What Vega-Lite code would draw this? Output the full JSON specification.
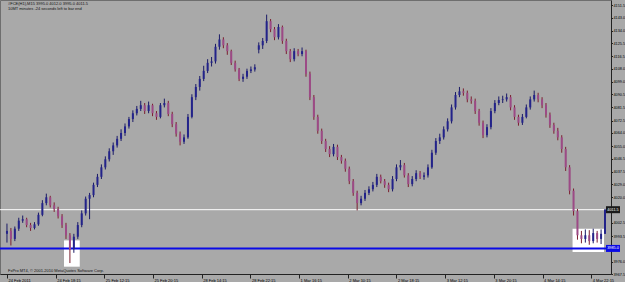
{
  "$schema": "https://vega.github.io/schema/vega-lite/v6.json",
  "width": 611,
  "height": 274,
  "autosize": {"type": "none"},
  "padding": {"left": 0, "top": 0, "right": 14, "bottom": 8},
  "background": "#a9a9a9",
  "config": {
    "view": {"fill": "#a9a9a9", "stroke": "#6e6e6e", "strokeWidth": 1},
    "font": "Liberation Sans",
    "axis": {"grid": false, "labelFont": "Liberation Sans", "labelFontSize": 4, "labelColor": "#000", "domainColor": "#222", "tickColor": "#222", "labelOverlap": false, "labelFlush": false, "labelBound": false, "title": null}
  },
  "datasets": {
    "bars": [
      {"i":0,"o":3995.0,"h":4002.0,"l":3989.0,"c":3997.0},
      {"i":1,"o":3997.0,"h":3999.0,"l":3987.0,"c":3991.5},
      {"i":2,"o":3991.5,"h":4000.0,"l":3990.0,"c":3998.5},
      {"i":3,"o":3998.5,"h":4006.0,"l":3997.0,"c":4004.0},
      {"i":4,"o":4004.0,"h":4007.5,"l":4002.5,"c":4005.0},
      {"i":5,"o":4005.0,"h":4006.0,"l":3999.5,"c":4001.0},
      {"i":6,"o":4001.0,"h":4002.5,"l":3997.0,"c":3999.0},
      {"i":7,"o":3999.0,"h":4003.0,"l":3998.0,"c":4001.5},
      {"i":8,"o":4001.5,"h":4009.5,"l":4000.5,"c":4008.0},
      {"i":9,"o":4008.0,"h":4018.0,"l":4007.0,"c":4016.0},
      {"i":10,"o":4016.0,"h":4022.5,"l":4014.5,"c":4020.0},
      {"i":11,"o":4020.0,"h":4021.0,"l":4013.0,"c":4014.5},
      {"i":12,"o":4014.5,"h":4016.5,"l":4010.0,"c":4012.0},
      {"i":13,"o":4012.0,"h":4013.5,"l":4005.5,"c":4007.0},
      {"i":14,"o":4007.0,"h":4008.5,"l":3999.0,"c":4001.0},
      {"i":15,"o":4001.0,"h":4002.5,"l":3991.5,"c":3994.0},
      {"i":16,"o":3994.0,"h":3995.5,"l":3975.0,"c":3984.5},
      {"i":17,"o":3984.5,"h":3995.0,"l":3982.0,"c":3993.0},
      {"i":18,"o":3993.0,"h":4003.0,"l":3991.5,"c":4001.0},
      {"i":19,"o":4001.0,"h":4011.0,"l":3999.5,"c":4009.0},
      {"i":20,"o":4009.0,"h":4020.5,"l":4007.5,"c":4019.0},
      {"i":21,"o":4019.0,"h":4023.0,"l":4005.0,"c":4021.5},
      {"i":22,"o":4021.5,"h":4030.0,"l":4020.0,"c":4028.5},
      {"i":23,"o":4028.5,"h":4036.0,"l":4027.0,"c":4034.0},
      {"i":24,"o":4034.0,"h":4042.5,"l":4032.5,"c":4040.5},
      {"i":25,"o":4040.5,"h":4048.0,"l":4039.0,"c":4046.0},
      {"i":26,"o":4046.0,"h":4053.5,"l":4044.5,"c":4051.5},
      {"i":27,"o":4051.5,"h":4057.5,"l":4049.0,"c":4055.5},
      {"i":28,"o":4055.5,"h":4062.0,"l":4054.0,"c":4060.0},
      {"i":29,"o":4060.0,"h":4066.5,"l":4058.5,"c":4064.0},
      {"i":30,"o":4064.0,"h":4070.5,"l":4062.0,"c":4068.5},
      {"i":31,"o":4068.5,"h":4075.0,"l":4067.0,"c":4073.5},
      {"i":32,"o":4073.5,"h":4079.5,"l":4071.5,"c":4077.5},
      {"i":33,"o":4077.5,"h":4082.5,"l":4076.0,"c":4080.5},
      {"i":34,"o":4080.5,"h":4086.0,"l":4079.0,"c":4083.0},
      {"i":35,"o":4083.0,"h":4084.5,"l":4077.0,"c":4079.0},
      {"i":36,"o":4079.0,"h":4085.5,"l":4077.5,"c":4083.0},
      {"i":37,"o":4083.0,"h":4084.0,"l":4075.5,"c":4077.5},
      {"i":38,"o":4077.5,"h":4079.0,"l":4073.0,"c":4075.0},
      {"i":39,"o":4075.0,"h":4084.5,"l":4074.0,"c":4083.0},
      {"i":40,"o":4083.0,"h":4087.5,"l":4081.5,"c":4084.5},
      {"i":41,"o":4084.5,"h":4086.0,"l":4075.5,"c":4077.0},
      {"i":42,"o":4077.0,"h":4078.5,"l":4068.0,"c":4070.0},
      {"i":43,"o":4070.0,"h":4071.5,"l":4061.5,"c":4063.5},
      {"i":44,"o":4063.5,"h":4065.0,"l":4055.5,"c":4058.0},
      {"i":45,"o":4058.0,"h":4063.0,"l":4056.5,"c":4061.0},
      {"i":46,"o":4061.0,"h":4077.0,"l":4060.0,"c":4075.0},
      {"i":47,"o":4075.0,"h":4090.5,"l":4074.0,"c":4088.5},
      {"i":48,"o":4088.5,"h":4097.5,"l":4086.5,"c":4095.5},
      {"i":49,"o":4095.5,"h":4103.0,"l":4093.0,"c":4101.0},
      {"i":50,"o":4101.0,"h":4110.0,"l":4099.5,"c":4106.5},
      {"i":51,"o":4106.5,"h":4114.5,"l":4105.0,"c":4112.0},
      {"i":52,"o":4112.0,"h":4116.0,"l":4109.5,"c":4113.0},
      {"i":53,"o":4113.0,"h":4125.0,"l":4111.5,"c":4123.0},
      {"i":54,"o":4123.0,"h":4131.5,"l":4121.0,"c":4128.0},
      {"i":55,"o":4128.0,"h":4129.5,"l":4122.0,"c":4124.0},
      {"i":56,"o":4124.0,"h":4125.5,"l":4117.5,"c":4120.0},
      {"i":57,"o":4120.0,"h":4121.0,"l":4110.5,"c":4112.0},
      {"i":58,"o":4112.0,"h":4113.5,"l":4106.0,"c":4107.5},
      {"i":59,"o":4107.5,"h":4108.5,"l":4099.5,"c":4101.0},
      {"i":60,"o":4101.0,"h":4104.5,"l":4099.0,"c":4102.5},
      {"i":61,"o":4102.5,"h":4108.0,"l":4101.0,"c":4106.5},
      {"i":62,"o":4106.5,"h":4109.5,"l":4105.0,"c":4107.5},
      {"i":63,"o":4107.5,"h":4111.0,"l":4106.0,"c":4109.0},
      {"i":64,"o":4121.0,"h":4126.0,"l":4118.5,"c":4124.0},
      {"i":65,"o":4124.0,"h":4129.0,"l":4121.5,"c":4127.0},
      {"i":66,"o":4127.0,"h":4145.0,"l":4125.5,"c":4140.5},
      {"i":67,"o":4140.5,"h":4142.0,"l":4133.0,"c":4135.0},
      {"i":68,"o":4135.0,"h":4136.5,"l":4127.5,"c":4129.5},
      {"i":69,"o":4129.5,"h":4138.5,"l":4128.0,"c":4136.5},
      {"i":70,"o":4136.5,"h":4137.5,"l":4125.0,"c":4127.0},
      {"i":71,"o":4127.0,"h":4128.5,"l":4118.0,"c":4120.0},
      {"i":72,"o":4120.0,"h":4121.5,"l":4112.5,"c":4114.5},
      {"i":73,"o":4114.5,"h":4122.0,"l":4113.0,"c":4120.0},
      {"i":74,"o":4120.0,"h":4121.5,"l":4116.5,"c":4118.0},
      {"i":75,"o":4118.0,"h":4122.5,"l":4116.5,"c":4120.0},
      {"i":76,"o":4120.0,"h":4121.0,"l":4102.5,"c":4104.5},
      {"i":77,"o":4104.5,"h":4106.0,"l":4086.5,"c":4088.5},
      {"i":78,"o":4088.5,"h":4090.0,"l":4073.0,"c":4075.0},
      {"i":79,"o":4075.0,"h":4076.5,"l":4063.5,"c":4065.5},
      {"i":80,"o":4065.5,"h":4067.0,"l":4056.5,"c":4058.5},
      {"i":81,"o":4058.5,"h":4060.0,"l":4051.0,"c":4053.0},
      {"i":82,"o":4053.0,"h":4055.0,"l":4047.5,"c":4049.5},
      {"i":83,"o":4049.5,"h":4056.5,"l":4048.0,"c":4054.5},
      {"i":84,"o":4054.5,"h":4056.0,"l":4045.5,"c":4047.5},
      {"i":85,"o":4047.5,"h":4049.0,"l":4043.0,"c":4045.0},
      {"i":86,"o":4045.0,"h":4046.5,"l":4037.5,"c":4039.5},
      {"i":87,"o":4039.5,"h":4041.0,"l":4029.0,"c":4031.0},
      {"i":88,"o":4031.0,"h":4032.5,"l":4021.0,"c":4023.0},
      {"i":89,"o":4023.0,"h":4024.5,"l":4011.0,"c":4016.0},
      {"i":90,"o":4016.0,"h":4021.0,"l":4014.5,"c":4019.0},
      {"i":91,"o":4019.0,"h":4025.0,"l":4017.5,"c":4023.0},
      {"i":92,"o":4023.0,"h":4027.5,"l":4021.5,"c":4025.5},
      {"i":93,"o":4025.5,"h":4030.5,"l":4024.0,"c":4028.5},
      {"i":94,"o":4028.5,"h":4036.0,"l":4027.0,"c":4034.0},
      {"i":95,"o":4034.0,"h":4035.5,"l":4029.5,"c":4031.0},
      {"i":96,"o":4031.0,"h":4032.5,"l":4026.5,"c":4028.5},
      {"i":97,"o":4028.5,"h":4030.0,"l":4023.5,"c":4025.5},
      {"i":98,"o":4025.5,"h":4034.5,"l":4024.0,"c":4032.5},
      {"i":99,"o":4032.5,"h":4042.5,"l":4031.0,"c":4040.5},
      {"i":100,"o":4040.5,"h":4045.5,"l":4038.5,"c":4042.0},
      {"i":101,"o":4042.0,"h":4043.5,"l":4033.5,"c":4035.0},
      {"i":102,"o":4035.0,"h":4036.5,"l":4027.0,"c":4029.0},
      {"i":103,"o":4029.0,"h":4034.5,"l":4027.5,"c":4032.5},
      {"i":104,"o":4032.5,"h":4038.5,"l":4031.0,"c":4036.5},
      {"i":105,"o":4036.5,"h":4038.0,"l":4032.5,"c":4034.0},
      {"i":106,"o":4034.0,"h":4037.0,"l":4032.0,"c":4035.0},
      {"i":107,"o":4035.0,"h":4042.5,"l":4033.5,"c":4040.5},
      {"i":108,"o":4040.5,"h":4052.5,"l":4039.5,"c":4050.5},
      {"i":109,"o":4050.5,"h":4060.5,"l":4049.0,"c":4058.5},
      {"i":110,"o":4058.5,"h":4063.5,"l":4056.5,"c":4061.0},
      {"i":111,"o":4061.0,"h":4068.5,"l":4059.5,"c":4066.5},
      {"i":112,"o":4066.5,"h":4074.0,"l":4065.0,"c":4072.0},
      {"i":113,"o":4072.0,"h":4083.5,"l":4070.5,"c":4081.5},
      {"i":114,"o":4081.5,"h":4092.0,"l":4080.0,"c":4090.0},
      {"i":115,"o":4090.0,"h":4095.5,"l":4088.5,"c":4092.5},
      {"i":116,"o":4092.5,"h":4094.5,"l":4089.5,"c":4091.5},
      {"i":117,"o":4091.5,"h":4093.0,"l":4085.0,"c":4087.0},
      {"i":118,"o":4087.0,"h":4089.0,"l":4084.0,"c":4086.0},
      {"i":119,"o":4086.0,"h":4087.5,"l":4077.0,"c":4079.0},
      {"i":120,"o":4079.0,"h":4080.5,"l":4069.0,"c":4071.0},
      {"i":121,"o":4071.0,"h":4072.5,"l":4060.5,"c":4062.5},
      {"i":122,"o":4062.5,"h":4070.0,"l":4061.0,"c":4068.0},
      {"i":123,"o":4068.0,"h":4081.0,"l":4066.5,"c":4079.0},
      {"i":124,"o":4079.0,"h":4086.5,"l":4077.5,"c":4084.5},
      {"i":125,"o":4084.5,"h":4089.0,"l":4083.0,"c":4086.5},
      {"i":126,"o":4086.5,"h":4089.5,"l":4084.5,"c":4087.0},
      {"i":127,"o":4087.0,"h":4091.0,"l":4085.5,"c":4088.5},
      {"i":128,"o":4088.5,"h":4090.0,"l":4079.5,"c":4081.5},
      {"i":129,"o":4081.5,"h":4083.0,"l":4073.0,"c":4075.0},
      {"i":130,"o":4075.0,"h":4076.5,"l":4069.0,"c":4071.0},
      {"i":131,"o":4071.0,"h":4077.0,"l":4069.5,"c":4075.0},
      {"i":132,"o":4075.0,"h":4083.5,"l":4074.0,"c":4081.5},
      {"i":133,"o":4081.5,"h":4089.0,"l":4080.0,"c":4087.0},
      {"i":134,"o":4087.0,"h":4093.0,"l":4085.5,"c":4090.0},
      {"i":135,"o":4090.0,"h":4091.5,"l":4085.0,"c":4087.0},
      {"i":136,"o":4087.0,"h":4088.5,"l":4081.0,"c":4083.0},
      {"i":137,"o":4083.0,"h":4084.5,"l":4074.5,"c":4076.5},
      {"i":138,"o":4076.5,"h":4078.0,"l":4067.5,"c":4069.5},
      {"i":139,"o":4069.5,"h":4071.0,"l":4063.5,"c":4065.5},
      {"i":140,"o":4065.5,"h":4067.5,"l":4059.0,"c":4061.0},
      {"i":141,"o":4061.0,"h":4062.5,"l":4050.5,"c":4053.0},
      {"i":142,"o":4053.0,"h":4054.5,"l":4038.0,"c":4040.5},
      {"i":143,"o":4040.5,"h":4042.0,"l":4022.0,"c":4024.5},
      {"i":144,"o":4024.5,"h":4026.0,"l":4007.5,"c":4010.5},
      {"i":145,"o":4010.5,"h":4012.0,"l":3991.0,"c":3994.0},
      {"i":146,"o":3994.0,"h":3997.0,"l":3988.5,"c":3991.5},
      {"i":147,"o":3991.5,"h":3998.0,"l":3989.0,"c":3994.0},
      {"i":148,"o":3994.0,"h":3997.5,"l":3987.5,"c":3990.0},
      {"i":149,"o":3990.0,"h":3998.5,"l":3988.5,"c":3995.5},
      {"i":150,"o":3995.5,"h":3997.0,"l":3989.0,"c":3991.5},
      {"i":151,"o":3991.5,"h":3998.0,"l":3988.0,"c":3995.0},
      {"i":152,"o":3995.0,"h":4012.0,"l":3995.0,"c":4011.5}
    ],
    "zones": [
      {"a": 14.5, "b": 18.5, "lo": 3972.5, "hi": 3990.5},
      {"a": 143.75, "b": 151.75, "lo": 3982.5, "hi": 3998.5}
    ],
    "levels": [
      {"p": 4011.5, "kind": "bid", "txt": "4011.5"},
      {"p": 3985.0, "kind": "level", "txt": "3985.0"}
    ],
    "head": [
      {"t": "#FCE(H1),M15  3995.0 4012.0 3995.0 4011.5\n10MT minutes -24 seconds left to bar end"}
    ],
    "foot": [
      {"t": "FxPro MT4, © 2001-2010 MetaQuotes Software Corp."}
    ]
  },
  "layer": [
    {
      "data": {"name": "zones"},
      "mark": {"type": "rect", "color": "#ffffff"},
      "encoding": {
        "x": {"field": "a", "type": "quantitative", "title": null, "scale": {"domain": [-0.5, 152.25], "nice": false, "zero": false}},
        "x2": {"field": "b"},
        "y": {"field": "lo", "type": "quantitative", "title": null, "scale": {"domain": [3967.5, 4155], "nice": false, "zero": false}},
        "y2": {"field": "hi"}
      }
    },
    {
      "data": {"name": "levels"},
      "mark": {"type": "rule"},
      "encoding": {
        "y": {"field": "p", "type": "quantitative", "title": null},
        "color": {"condition": {"test": "datum.kind == 'level'", "value": "#0a0ae6"}, "value": "#ffffff"},
        "strokeWidth": {"condition": {"test": "datum.kind == 'level'", "value": 2}, "value": 1}
      }
    },
    {
      "data": {"name": "bars"},
      "mark": {"type": "rule", "strokeWidth": 1},
      "encoding": {
        "x": {"field": "i", "type": "quantitative", "title": null,
          "axis": {"orient": "bottom", "values": [0, 6.1875, 12.375, 18.5625, 24.75, 30.9375, 37.125, 43.3125, 49.5, 55.6875, 61.875, 68.0625, 74.25, 80.4375, 86.625, 92.8125, 99, 105.1875, 111.375, 117.5625, 123.75, 129.9375, 136.125, 142.3125, 148.5],
            "labelExpr": "['24 Feb 2011','24 Feb 14:15','24 Feb 18:15','24 Feb 22:15','25 Feb 12:15','25 Feb 16:15','25 Feb 20:15','28 Feb 10:15','28 Feb 14:15','28 Feb 18:15','28 Feb 22:15','1 Mar 12:15','1 Mar 16:15','1 Mar 20:15','2 Mar 10:15','2 Mar 14:15','2 Mar 18:15','2 Mar 22:15','3 Mar 12:15','3 Mar 16:15','3 Mar 20:15','4 Mar 10:15','4 Mar 14:15','4 Mar 18:15','4 Mar 22:15'][round(datum.value / 6.1875)]",
            "labelAlign": "left", "labelBaseline": "top", "labelPadding": 0, "labelOffset": 1, "tickSize": 4, "labelOverlap": false, "labelBound": false}},
        "y": {"field": "l", "type": "quantitative", "title": null,
          "axis": {"orient": "right", "values": [4151.5, 4143.0, 4134.0, 4125.5, 4116.5, 4108.0, 4099.0, 4090.5, 4081.5, 4072.5, 4064.0, 4055.0, 4046.5, 4037.5, 4029.0, 4020.0, 4002.5, 3993.5, 3976.0, 3967.5],
            "format": ".1f", "labelAlign": "left", "labelBaseline": "middle", "labelPadding": 0.5, "tickSize": 1.5, "labelFontSize": 3.8, "labelOverlap": false, "labelBound": false, "tickCount": 22}},
        "y2": {"field": "h"},
        "color": {"condition": {"test": "datum.c >= datum.o", "value": "#1a1a66"}, "value": "#7a1f2e"}
      }
    },
    {
      "data": {"name": "bars"},
      "mark": {"type": "bar", "width": 2},
      "encoding": {
        "x": {"field": "i", "type": "quantitative", "title": null},
        "y": {"field": "o", "type": "quantitative", "title": null},
        "y2": {"field": "c"},
        "color": {"condition": {"test": "datum.c >= datum.o", "value": "#23238a"}, "value": "#9c4a86"}
      }
    },
    {
      "data": {"name": "levels"},
      "mark": {"type": "point", "shape": "M-1,-0.5H1V0.5H-1Z", "size": 196, "filled": true, "opacity": 1, "xOffset": 7},
      "encoding": {
        "x": {"datum": 152.25},
        "y": {"field": "p", "type": "quantitative", "title": null},
        "color": {"condition": {"test": "datum.kind == 'level'", "value": "#0a0ae6"}, "value": "#1a1a1a"}
      }
    },
    {
      "data": {"name": "levels"},
      "mark": {"type": "text", "fontSize": 3.8, "color": "#ffffff", "align": "center", "baseline": "middle", "xOffset": 7},
      "encoding": {
        "x": {"datum": 152.25},
        "y": {"field": "p", "type": "quantitative", "title": null},
        "text": {"field": "txt"}
      }
    },
    {
      "data": {"name": "head"},
      "mark": {"type": "text", "fontSize": 4, "color": "#111111", "align": "left", "baseline": "top", "dx": 3, "dy": 2, "lineBreak": "\n", "lineHeight": 4.5},
      "encoding": {
        "x": {"datum": -0.5},
        "y": {"datum": 4155},
        "text": {"field": "t"}
      }
    },
    {
      "data": {"name": "foot"},
      "mark": {"type": "text", "fontSize": 4, "color": "#111111", "align": "left", "baseline": "bottom", "dx": 3, "dy": -1},
      "encoding": {
        "x": {"datum": -0.5},
        "y": {"datum": 3967.5},
        "text": {"field": "t"}
      }
    }
  ]
}
